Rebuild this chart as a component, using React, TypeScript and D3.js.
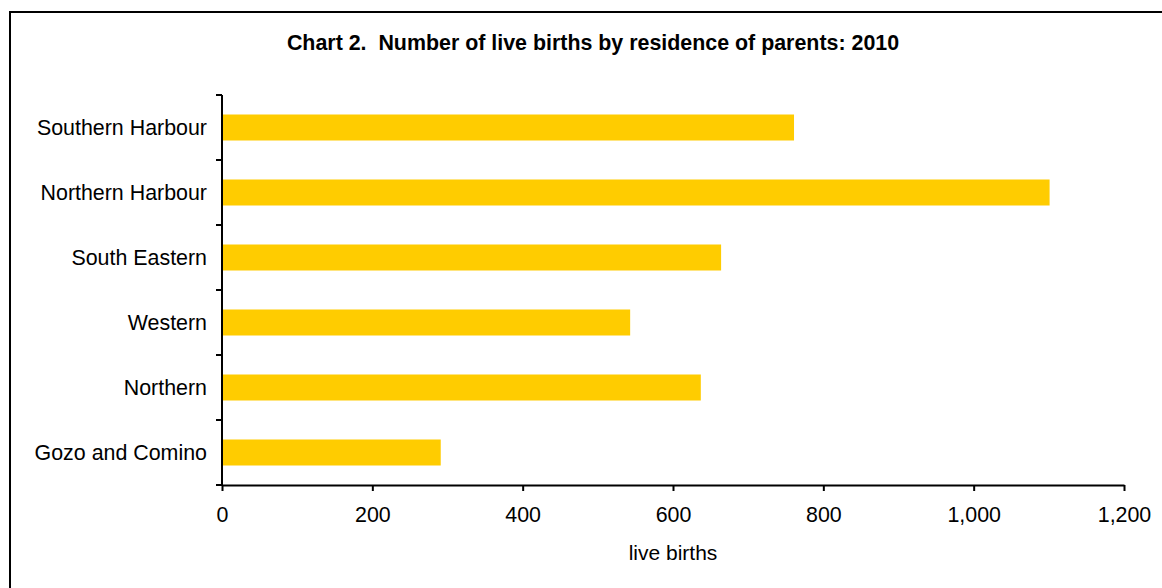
import * as d3 from "d3";
import { useEffect, useRef } from "react";

// regions, top to bottom as in the chart
const regions = ["Southern Harbour", "Northern Harbour", "South Eastern", "Western", "Northern", "Gozo and Comino"];
const births = [761, 1101, 664, 543, 637, 291];
const xTicks = [0, 200, 400, 600, 800, 1000, 1200];

const title = "Chart 2.  Number of live births by residence of parents: 2010";
const xLabel = "live births";

export default function App() {
  const ref = useRef<SVGSVGElement>(null);

  useEffect(() => {
    const width = 1162;
    const height = 588;
    const left = 222, right = 1124, top = 95, bottom = 485;
    const font = "'Liberation Sans', Arial, sans-serif";
    const fontSize = "21.4px";

    const svg = d3.select(ref.current)
      .attr("width", width)
      .attr("height", height)
      .style("font-family", font);
    svg.selectAll("*").remove();

    // frame round the chart area
    svg.append("rect")
      .attr("x", 10).attr("y", 12)
      .attr("width", 1200).attr("height", 620)
      .attr("fill", "white")
      .attr("stroke", "black")
      .attr("stroke-width", 2);

    svg.append("text")
      .attr("x", 593).attr("y", 50)
      .attr("text-anchor", "middle")
      .style("font-size", fontSize)
      .style("font-weight", "bold")
      .style("white-space", "pre")
      .text(title);

    const x = d3.scaleLinear().domain([0, 1200]).range([left, right]);
    const y = d3.scaleBand<string>()
      .domain(regions)
      .range([top, bottom])
      .paddingInner(0.6)
      .paddingOuter(0.3);

    const data = regions.map((r, i) => ({ region: r, value: births[i] }));

    svg.append("g").selectAll("rect")
      .data(data)
      .enter()
      .append("rect")
      .attr("x", x(0))
      .attr("y", d => y(d.region)!)
      .attr("width", d => x(d.value) - x(0))
      .attr("height", y.bandwidth())
      .attr("fill", "#ffcc00");

    // y axis: line, ticks between categories, labels
    const step = y.step();
    const boundaries = regions.map((_, i) => top + i * step).concat([bottom]);
    const yAxis = svg.append("g");
    yAxis.append("line")
      .attr("x1", left).attr("x2", left)
      .attr("y1", top).attr("y2", bottom + 1)
      .attr("stroke", "black").attr("stroke-width", 2);
    yAxis.selectAll("line.tick")
      .data(boundaries)
      .enter()
      .append("line")
      .attr("class", "tick")
      .attr("x1", left - 6).attr("x2", left)
      .attr("y1", d => d).attr("y2", d => d)
      .attr("stroke", "black").attr("stroke-width", 2);
    yAxis.selectAll("text")
      .data(regions)
      .enter()
      .append("text")
      .attr("x", 207)
      .attr("y", d => y(d)! + y.bandwidth() / 2)
      .attr("dy", "0.35em")
      .attr("text-anchor", "end")
      .style("font-size", fontSize)
      .text(d => d);

    // x axis
    const xAxis = d3.axisBottom(x)
      .tickValues(xTicks)
      .tickSize(6)
      .tickSizeOuter(0)
      .tickPadding(16)
      .tickFormat(d => d3.format(",")(d as number));

    const gx = svg.append("g")
      .attr("transform", `translate(0,${bottom})`)
      .call(xAxis);
    gx.select(".domain").attr("stroke", "black").attr("stroke-width", 2);
    gx.selectAll(".tick line").attr("stroke", "black").attr("stroke-width", 2);
    gx.selectAll(".tick text")
      .attr("fill", "black")
      .style("font-size", fontSize)
      .style("font-family", font);

    svg.append("text")
      .attr("x", (left + right) / 2).attr("y", 560)
      .attr("text-anchor", "middle")
      .style("font-size", "21px")
      .text(xLabel);
  }, []);

  return (
    <svg ref={ref} style={{ position: "absolute", left: 0, top: 0 }}></svg>
  );
}
